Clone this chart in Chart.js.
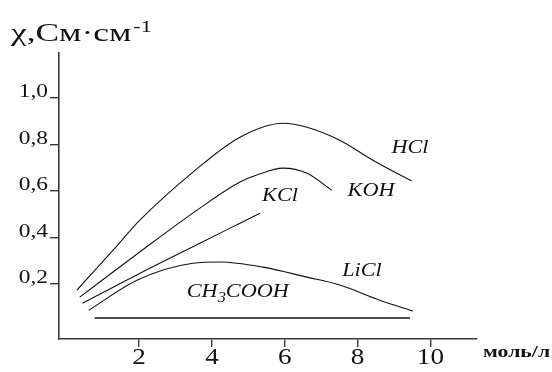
<!DOCTYPE html>
<html>
<head>
<meta charset="utf-8">
<script src="https://cdn.jsdelivr.net/npm/chart.js@4/dist/chart.umd.min.js"></script>
<style>
  html,body{margin:0;padding:0;background:#fff;}
  #wrap{width:552px;height:372px;position:relative;}
</style>
</head>
<body>
<div id="wrap"><canvas id="c" width="552" height="372"></canvas></div>
<script>
// ---- data ----
const hclX  = [0.29, 1.28, 2.02, 3.48, 4.77, 5.95, 6.61, 7.51, 8.42, 9.49];
const hclY  = [0.174, 0.345, 0.475, 0.682, 0.832, 0.892, 0.875, 0.819, 0.733, 0.643];
const kohX  = [0.37, 1.99, 3.67, 4.77, 5.23, 5.95, 6.61, 7.29];
const kohY  = [0.144, 0.335, 0.527, 0.639, 0.669, 0.699, 0.677, 0.604];
const kclX  = [0.45, 2.0, 3.67, 4.77, 5.32];
const kclY  = [0.118, 0.245, 0.376, 0.462, 0.505];
const liclX = [0.62, 1.94, 3.48, 4.22, 5.40, 6.61, 7.51, 8.61, 9.52];
const liclY = [0.088, 0.217, 0.290, 0.295, 0.273, 0.230, 0.196, 0.131, 0.084];
const aceticX = [0.78, 9.44];
const aceticY = [0.054, 0.054];

const xTicks = [2, 4, 6, 8, 10];
const xTickLabels = ['2', '4', '6', '8', '10'];
const yTicks = [0.2, 0.4, 0.6, 0.8, 1.0];
const yTickLabels = ['0,2', '0,4', '0,6', '0,8', '1,0'];

const seriesNames = ['HCl', 'KOH', 'KCl', 'LiCl', 'CH3COOH'];
// label anchor points in data units
const labelX = [9.44, 8.37, 5.87, 8.12, 4.71];
const labelY = [0.785, 0.60, 0.578, 0.256, 0.166];

const yTitle = 'χ,См·см';
const yTitleSup = '-1';
const xTitle = 'моль/л';

// ---- build ----
function pts(xs, ys){ return xs.map((x,i)=>({x:x, y:ys[i]})); }
const lineStyle = {borderColor:'#111', borderWidth:1.1, pointRadius:0, fill:false, cubicInterpolationMode:'monotone', showLine:true};

const datasets = [
  Object.assign({label:'HCl', data:pts(hclX,hclY)}, lineStyle),
  Object.assign({label:'KOH', data:pts(kohX,kohY)}, lineStyle),
  Object.assign({label:'KCl', data:pts(kclX,kclY)}, lineStyle),
  Object.assign({label:'LiCl', data:pts(liclX,liclY)}, lineStyle),
  Object.assign({label:'CH3COOH', data:pts(aceticX,aceticY)}, lineStyle, {borderWidth:1.4})
];

const AXIS = '#3a3a3a';
const SERIF = '"Liberation Serif", "Times New Roman", serif';

// draw text horizontally stretched by sx, anchored at (x,y) with given align
function txt(ctx, s, x, y, font, sx, align, baseline){
  ctx.save();
  ctx.font = font;
  ctx.textBaseline = baseline || 'alphabetic';
  const w = ctx.measureText(s).width * sx;
  let left = x;
  if (align === 'center') left = x - w/2;
  else if (align === 'right') left = x - w;
  ctx.translate(left, y);
  ctx.scale(sx, 1);
  ctx.textAlign = 'left';
  ctx.fillText(s, 0, 0);
  ctx.restore();
  return w;
}
function width(ctx, s, font, sx){ ctx.save(); ctx.font = font; const w = ctx.measureText(s).width*sx; ctx.restore(); return w; }

const textPlugin = {
  id:'texts',
  afterDraw(chart){
    const ctx = chart.ctx;
    const xs = chart.scales.x, ys = chart.scales.y;
    ctx.save();
    ctx.fillStyle = '#111';
    // y tick labels (sit just above their tick)
    const yFont = '18px ' + SERIF;
    yTicks.forEach((v,i)=>{
      const py = ys.getPixelForValue(v);
      txt(ctx, yTickLabels[i], ys.right - 11, py - 1, yFont, 1.3, 'right');
    });
    // x tick labels
    const xFont = '23px ' + SERIF;
    xTicks.forEach((v,i)=>{
      const px = xs.getPixelForValue(v);
      txt(ctx, xTickLabels[i], px, xs.top + 19, xFont, 1.18, 'center', 'middle');
    });
    // series labels
    const lf = 'italic 19px ' + SERIF, lfs = 'italic 14px ' + SERIF, lsx = 1.17;
    seriesNames.forEach((n,i)=>{
      const px = xs.getPixelForValue(labelX[i]);
      const py = ys.getPixelForValue(labelY[i]);
      if (n === 'CH3COOH'){
        const a = 'CH', b = '3', c = 'COOH';
        const wa = width(ctx,a,lf,lsx), wb = width(ctx,b,lfs,lsx), wc = width(ctx,c,lf,lsx);
        let x0 = px - (wa+wb+wc)/2;
        txt(ctx, a, x0, py, lf, lsx, 'left', 'middle');
        txt(ctx, b, x0+wa, py+6, lfs, lsx, 'left', 'middle');
        txt(ctx, c, x0+wa+wb, py, lf, lsx, 'left', 'middle');
      } else {
        txt(ctx, n, px, py, lf, lsx, 'center', 'middle');
      }
    });
    // y title
    const tf = '26px ' + SERIF;
    const w = txt(ctx, yTitle, 11, 41, tf, 1.36, 'left');
    txt(ctx, yTitleSup, 11 + w + 2, 32, '17px ' + SERIF, 1.3, 'left');
    // x title
    txt(ctx, xTitle, xs.right + 6, 357, 'bold 17px ' + SERIF, 1.28, 'left');
    ctx.restore();
  }
};

new Chart(document.getElementById('c'), {
  type:'scatter',
  data:{datasets},
  plugins:[textPlugin],
  options:{
    responsive:false,
    animation:false,
    layout:{padding:{left:0, top:53, right:75, bottom:0}},
    plugins:{legend:{display:false}, tooltip:{enabled:false}, title:{display:false}},
    scales:{
      x:{
        type:'linear', min:-0.2, max:11.28,
        afterBuildTicks(s){ s.ticks = xTicks.map(v=>({value:v})); },
        afterFit(s){ s.height = 33; },
        border:{display:true, color:AXIS, width:1.6},
        grid:{display:true, drawOnChartArea:false, drawTicks:true, tickLength:8, color:AXIS, lineWidth:1.4},
        ticks:{display:false}
      },
      y:{
        type:'linear', min:-0.036, max:1.194,
        afterBuildTicks(s){ s.ticks = yTicks.map(v=>({value:v})); },
        afterFit(s){ s.width = 59; },
        border:{display:true, color:AXIS, width:1.6},
        grid:{display:true, drawOnChartArea:false, drawTicks:true, tickLength:9, color:AXIS, lineWidth:1.4},
        ticks:{display:false}
      }
    }
  }
});
</script>
</body>
</html>
